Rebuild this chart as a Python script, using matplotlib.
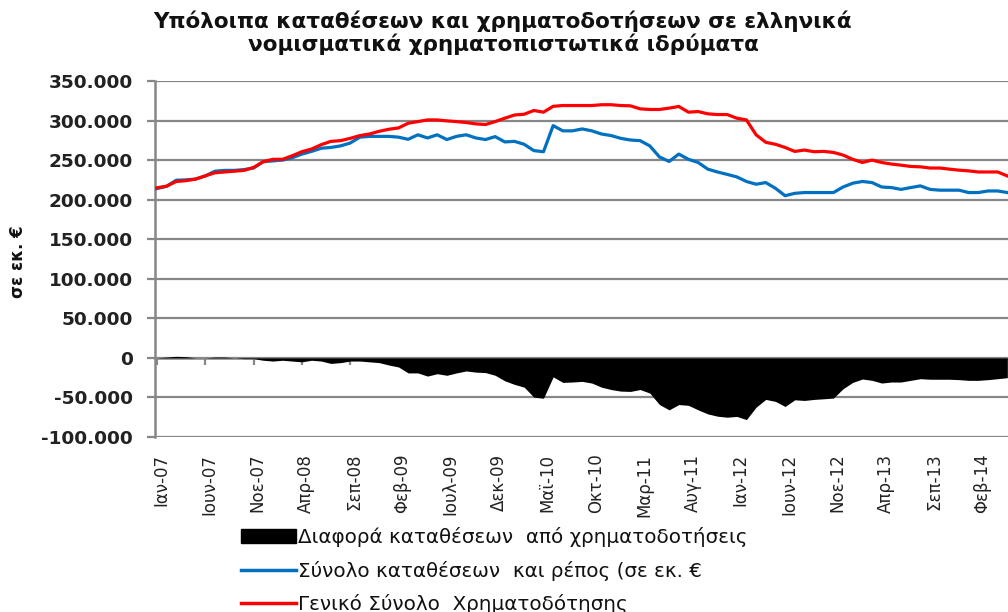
import matplotlib
matplotlib.use("Agg")
import matplotlib.pyplot as plt
from matplotlib.ticker import FuncFormatter, MultipleLocator
import matplotlib.transforms as mtransforms
from matplotlib.patches import Patch
from matplotlib.lines import Line2D

# ---- data (thousands of million €), monthly from Jan 2007 ----
months = list(range(89))

loans = [215, 217, 223, 224, 226, 230, 234, 235, 236, 237,
         240.7, 248, 251, 251, 255.5, 260.6, 264, 269.5, 273.7, 274.6,
         277.5, 281, 283, 286.4, 289, 290.7, 296.6, 298.7, 300.8, 300.8,
         299.6, 298.7, 297.5, 295.8, 295, 298.7, 303, 307, 308, 312.7,
         310.6, 318, 319, 319, 319, 319, 320, 320, 319, 318.6,
         314.8, 314, 314, 315.7, 317.8, 310.6, 311.4, 308.5, 307.6, 307.6,
         303, 300.8, 282, 272.5, 270, 266, 261, 262.7, 260.6, 261,
         259.7, 256.4, 251, 247, 250, 247, 245, 243.6, 242, 241.5,
         240, 240, 238.6, 237.3, 236.4, 235, 235, 235, 230]

deposits = [214, 217, 224.6, 225, 226, 230, 236, 237, 237, 238,
            240, 248, 249, 250, 253, 257.6, 261, 265, 266, 268,
            271.6, 279, 280, 280, 280, 279, 276.3, 282, 278, 282,
            276, 280, 282, 278, 276, 279.7, 273, 273.7, 270, 262,
            260.6, 293.6, 287, 287, 289.4, 287, 283, 281, 277.5, 275.4,
            274.6, 268, 254, 248.3, 257.6, 251, 247, 238.6, 235, 232,
            228.8, 223, 219.5, 221.6, 214.4, 205, 208, 209, 209, 209,
            209, 216, 220.8, 223, 221.6, 216, 215.3, 213, 215.3, 217.4,
            213, 212, 212, 212, 209, 209, 211, 211, 209]

diff = [0, 1, 2, 1.5, 0, 0, 1, 1, 0, -1,
        -1, -3, -4, -3, -4, -5, -3, -4, -7, -6,
        -4, -4, -5, -6, -9, -11.5, -19, -19, -23, -20,
        -22, -19, -16.5, -18, -18.6, -22, -29, -33.5, -37, -49.6,
        -51, -24, -31, -30.5, -29.7, -31.8, -37, -40, -42, -42.4,
        -40, -44.5, -59, -65.7, -59, -60, -65.7, -70.8, -73.7, -75,
        -74, -78, -62.3, -52.5, -55, -61.4, -53, -53.8, -52.5, -51.7,
        -50.8, -39, -31, -26.7, -28.4, -31.8, -30.5, -30.5, -28.4, -26.3,
        -27, -27, -27, -27.5, -28.4, -28.4, -27.5, -26.3, -25]

tick_labels = ["Ιαν-07", "Ιουν-07", "Νοε-07", "Απρ-08", "Σεπ-08", "Φεβ-09",
               "Ιουλ-09", "Δεκ-09", "Μαϊ-10", "Οκτ-10", "Μαρ-11", "Αυγ-11",
               "Ιαν-12", "Ιουν-12", "Νοε-12", "Απρ-13", "Σεπ-13", "Φεβ-14"]
tick_pos = months[::5][:len(tick_labels)]

title = "Υπόλοιπα καταθέσεων και χρηματοδοτήσεων σε ελληνικά\nνομισματικά χρηματοπιστωτικά ιδρύματα"
ylabel = "σε εκ. €"
legend_labels = ["Διαφορά καταθέσεων  από χρηματοδοτήσεις",
                 "Σύνολο καταθέσεων  και ρέπος (σε εκ. €",
                 "Γενικό Σύνολο  Χρηματοδότησης"]

BLUE = "#0070C0"
RED = "#FF0000"
GRID = "#878787"

W, H = 1008, 612
fig = plt.figure(figsize=(W / 100, H / 100), dpi=100)
ax = fig.add_axes([155 / W, (H - 437) / H, 920 / W, 356 / H])
ymin, ymax = -100, 350
ax.set_xlim(-0.2, 95)
ax.set_ylim(ymin, ymax)

ax.fill_between(months, diff, 0, color="black", lw=0, zorder=2)
ax.plot(months, deposits, color=BLUE, lw=2.3, zorder=3, solid_joinstyle="round")
ax.plot(months, loans, color=RED, lw=2.3, zorder=4, solid_joinstyle="round")

ax.yaxis.set_major_locator(MultipleLocator(50))
ax.yaxis.set_major_formatter(FuncFormatter(lambda v, p: f"{int(round(v * 1000)):,}".replace(",", ".")))
ax.grid(axis="y", color=GRID, lw=1.6)
ax.set_axisbelow(True)
for s in ["top", "right", "bottom"]:
    ax.spines[s].set_visible(False)
ax.spines["left"].set_color(GRID)
ax.spines["left"].set_linewidth(1.8)
ax.tick_params(axis="y", direction="out", length=6, width=1.6, color=GRID,
               pad=10, labelsize=13.3, labelcolor="#222222")
for lab in ax.get_yticklabels():
    lab.set_fontweight("bold")

ax.set_xticks(tick_pos)
ax.set_xticklabels(tick_labels, rotation=90, fontsize=12, color="#222222", va="top")
ax.tick_params(axis="x", length=0, pad=12)
off = mtransforms.ScaledTranslation(4 / 100, 0, fig.dpi_scale_trans)
for lab in ax.get_xticklabels():
    lab.set_transform(lab.get_transform() + off)

# horizontal axis crossing at zero
zero_frac = (0 - ymin) / (ymax - ymin)
sec = ax.secondary_xaxis(zero_frac)
sec.set_xticks(tick_pos)
sec.tick_params(axis="x", direction="out", length=5, width=1.6, color=GRID, labelbottom=False)
sec.spines["bottom"].set_color(GRID)
sec.spines["bottom"].set_linewidth(1.8)

fig.text(18 / W, 1 - 262 / H, ylabel, rotation=90, ha="center", va="center",
         fontsize=12, fontweight="bold", color="#111111")
fig.text(503 / W, 1 - 11 / H, title, ha="center", va="top", fontsize=15.5,
         fontweight="bold", color="#111111", linespacing=1.05)

handles = [Patch(facecolor="black", edgecolor="black"),
           Line2D([], [], color=BLUE, lw=2.5),
           Line2D([], [], color=RED, lw=2.5)]
fig.legend(handles, legend_labels, loc="upper left",
           bbox_to_anchor=(241 / W, 1 - 527 / H), frameon=False, fontsize=14.3,
           handlelength=2.75, handleheight=0.7, handletextpad=0.12,
           labelspacing=0.68, borderaxespad=0, borderpad=0, labelcolor="#111111")

fig.savefig("out.png", dpi=100)
